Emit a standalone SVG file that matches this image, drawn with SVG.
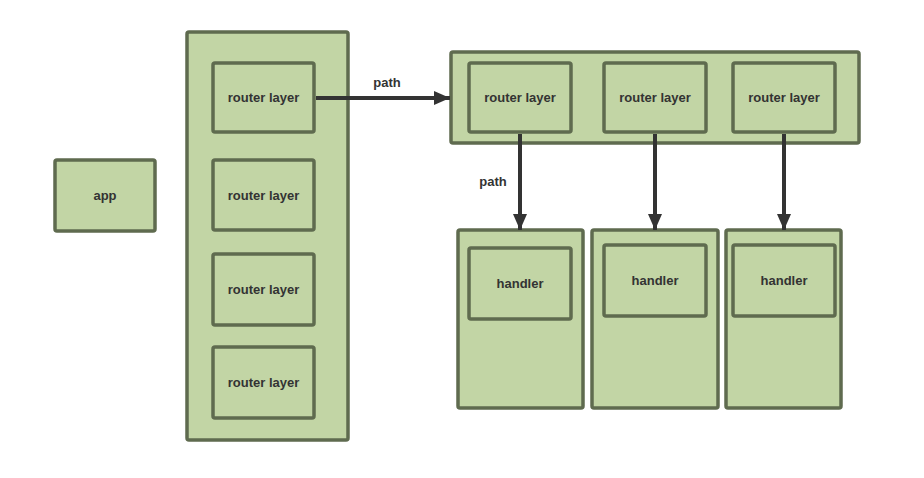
<svg xmlns="http://www.w3.org/2000/svg" width="924" height="478" viewBox="0 0 924 478">
<style>
.n{fill:#c2d5a5;stroke:#5f6b4f;stroke-width:3.5}
.t{font-family:"Liberation Sans",Arial,sans-serif;font-size:13px;font-weight:bold;fill:#333;text-anchor:middle;dominant-baseline:central}
.c{stroke:#333;stroke-width:4;fill:none}
</style>
<defs>
<marker id="ah" markerUnits="userSpaceOnUse" viewBox="0 0 16 14" refX="16" refY="7" markerWidth="16" markerHeight="14" orient="auto">
<path d="M0,0L16,7L0,14Z" fill="#333"/>
</marker>
</defs>
<rect width="924" height="478" fill="#fff"/>
<g id="app"><rect class="n" x="55" y="160" width="100" height="71" rx="2"/><text class="t" x="105" y="195.5">app</text></g>
<g id="column"><rect class="n" x="187" y="32" width="161" height="408" rx="2"/></g>
<g id="rl1"><rect class="n" x="213" y="63" width="101" height="69" rx="2"/><text class="t" x="263.5" y="97.5">router layer</text></g>
<g id="rl2"><rect class="n" x="213" y="160" width="101" height="70" rx="2"/><text class="t" x="263.5" y="195">router layer</text></g>
<g id="rl3"><rect class="n" x="213" y="254" width="101" height="71" rx="2"/><text class="t" x="263.5" y="289.5">router layer</text></g>
<g id="rl4"><rect class="n" x="213" y="347" width="101" height="71" rx="2"/><text class="t" x="263.5" y="382.5">router layer</text></g>
<g id="top"><rect class="n" x="451" y="52" width="408" height="91" rx="2"/></g>
<g id="trl1"><rect class="n" x="469" y="63" width="102" height="69" rx="2"/><text class="t" x="520" y="97.5">router layer</text></g>
<g id="trl2"><rect class="n" x="604" y="63" width="102" height="69" rx="2"/><text class="t" x="655" y="97.5">router layer</text></g>
<g id="trl3"><rect class="n" x="733" y="63" width="102" height="69" rx="2"/><text class="t" x="784" y="97.5">router layer</text></g>
<g id="hc1"><rect class="n" x="458" y="230" width="125" height="178" rx="2"/></g>
<g id="hc2"><rect class="n" x="592" y="230" width="126" height="178" rx="2"/></g>
<g id="hc3"><rect class="n" x="726" y="230" width="115" height="178" rx="2"/></g>
<g id="h1"><rect class="n" x="469" y="248" width="102" height="71" rx="2"/><text class="t" x="520" y="283.5">handler</text></g>
<g id="h2"><rect class="n" x="604" y="245" width="102" height="71" rx="2"/><text class="t" x="655" y="280.5">handler</text></g>
<g id="h3"><rect class="n" x="733" y="245" width="102" height="71" rx="2"/><text class="t" x="784" y="280.5">handler</text></g>
<g id="connectors">
<line class="c" x1="316" y1="98" x2="450" y2="98" marker-end="url(#ah)"/>
<line class="c" x1="520" y1="134" x2="520" y2="230" marker-end="url(#ah)"/>
<line class="c" x1="655" y1="134" x2="655" y2="230" marker-end="url(#ah)"/>
<line class="c" x1="784" y1="134" x2="784" y2="230" marker-end="url(#ah)"/>
<text class="t" x="387" y="82">path</text>
<text class="t" x="493" y="181">path</text>
</g>
</svg>
